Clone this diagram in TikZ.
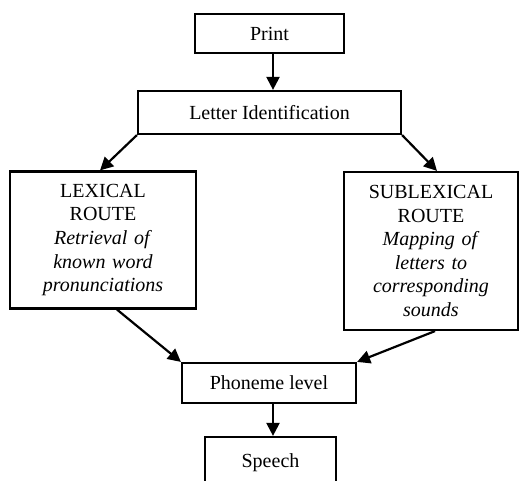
\documentclass[tikz,border=0pt]{standalone}
\usepackage{fontspec}
\setmainfont{Liberation Serif}
\usetikzlibrary{arrows.meta,calc}
\begin{document}
\begin{tikzpicture}[x=1pt,y=-1pt,
  box/.style={draw=black,line width=2.2pt,inner sep=0pt,align=center,
    font=\fontsize{20}{23.6}\selectfont,text=black},
  conn/.style={line width=2.2pt,-{Triangle[length=13pt,width=13pt]}}]
\useasboundingbox (0,0) rectangle (520,481);
\clip (0,0) rectangle (520,481);
\node[box,minimum width=149pt,minimum height=39pt] (print) at (269.5,33.5) {Print};
\node[box,minimum width=263pt,minimum height=43pt] (li) at (269.5,112.5) {Letter Identification};
\node[box,minimum width=186pt,minimum height=137pt,text width=180pt] (lex) at (103,240)
  {LEXICAL\\ROUTE\\\textit{Retrieval of}\\\textit{known word}\\\textit{pronunciations}};
\node[box,minimum width=174pt,minimum height=158pt,text width=170pt] (sub) at (431,251)
  {SUBLEXICAL\\ROUTE\\\textit{Mapping of}\\\textit{letters to}\\\textit{corresponding}\\\textit{sounds}};
\node[box,minimum width=174pt,minimum height=40pt] (ph) at (269,383) {Phoneme level};
\node[box,minimum width=131pt,minimum height=80pt] (sp) at (270.5,477) {};
\node[font=\fontsize{20}{23.6}\selectfont,text=black,anchor=base] (spt) at (270.5,467) {Speech};
\draw[conn] ($(print.south)+(3.5,0)$) -- ($(li.north)+(3.5,0)$);
\draw[conn] (li.south west) -- ($(lex.north)+(-3,0)$);
\draw[conn] (li.south east) -- ($(sub.north)+(6,0)$);
\draw[conn] ($(lex.south)+(14,0)$) -- (ph.north west);
\draw[conn] ($(sub.south)+(4,0)$) -- (ph.north east);
\draw[conn] ($(ph.south)+(4,0)$) -- ($(ph.south |- sp.north)+(4,0)$);
\end{tikzpicture}
\end{document}
